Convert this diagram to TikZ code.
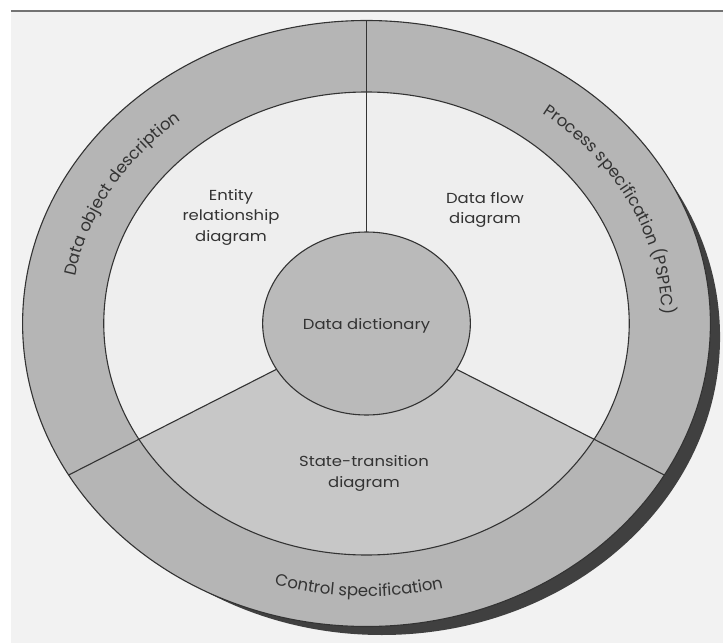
\documentclass[tikz,border=0pt]{standalone}
\usepackage{fontspec}
\setmainfont{Poppins}
\usetikzlibrary{decorations.text}
\definecolor{pagegray}{gray}{0.95}
\definecolor{rulegray}{gray}{0.45}
\definecolor{ringgray}{gray}{0.71}
\definecolor{sectorgray}{gray}{0.78}
\definecolor{dictgray}{gray}{0.73}
\definecolor{innerwhite}{gray}{0.935}
\definecolor{shadowgray}{gray}{0.25}
\definecolor{inkgray}{gray}{0.2}
\definecolor{textgray}{gray}{0.2}
\tikzstyle{areatext} = [align=center, text=textgray, transform shape,
	font=\fontsize{14.5}{20.5}\selectfont]
\tikzstyle{divider} = [draw=inkgray, line width=1.1pt]
\tikzstyle{ringtext} = [decorate, decoration={text along path, text align=center,
	text color=textgray}]

\begin{document}
\begin{tikzpicture}[x=1pt, y=1pt]
	% set up page
	\useasboundingbox (-366.5,-319.5) rectangle (356.5,323.5);
	\fill[white] (-366.5,-319.5) rectangle (356.5,323.5);
	\fill[pagegray] (-355.5,-319.5) rectangle (356.5,312);
	\draw[rulegray, line width=2.5pt] (-355.5,312.5) -- (356.5,312.5);

	\begin{scope}[xscale=1.135]
	% set up rings
	\fill[shadowgray] (13.5,-13.5) circle (298);
	\fill[ringgray] (0,0) circle (303);
	\fill[innerwhite] (0,0) circle (231.5);
	\fill[sectorgray] (0,0) -- (210:231.5) arc (210:330:231.5) -- cycle;
	\fill[dictgray] (0,0) circle (91.5);

	% set up outlines and dividers
	\draw[divider] (0,0) circle (303);
	\draw[divider] (0,0) circle (231.5);
	\draw[divider] (0,0) circle (91.5);
	\foreach \ang in {90, 210, 330}
		\draw[divider] (\ang:91.5) -- (\ang:303);

	% set up area labels
	\node (erd) [areatext] at (-119.4,106.5) {Entity\\relationship\\diagram};
	\node (dfd) [areatext] at (104.4,113.5) {Data flow\\diagram};
	\node (dict) [areatext] at (0,-2.5) {Data dictionary};
	\node (std) [areatext] at (-2.2,-150) {State-transition\\diagram};

	% set up ring labels
	\path[ringtext, decoration={text={|\fontsize{16.5}{19}\selectfont|Data object description}}]
		(179.6:261) arc (179.6:119.6:261);
	\path[ringtext, decoration={text={|\fontsize{16.5}{19}\selectfont|Process specification (PSPEC)}}]
		(57.6:261) arc (57.6:-2.4:261);
	\path[ringtext, decoration={text={|\fontsize{16.5}{19}\selectfont|Control specification}}]
		(238.5:273) arc (238.5:298.5:273);
	\end{scope}
\end{tikzpicture}
\end{document}
